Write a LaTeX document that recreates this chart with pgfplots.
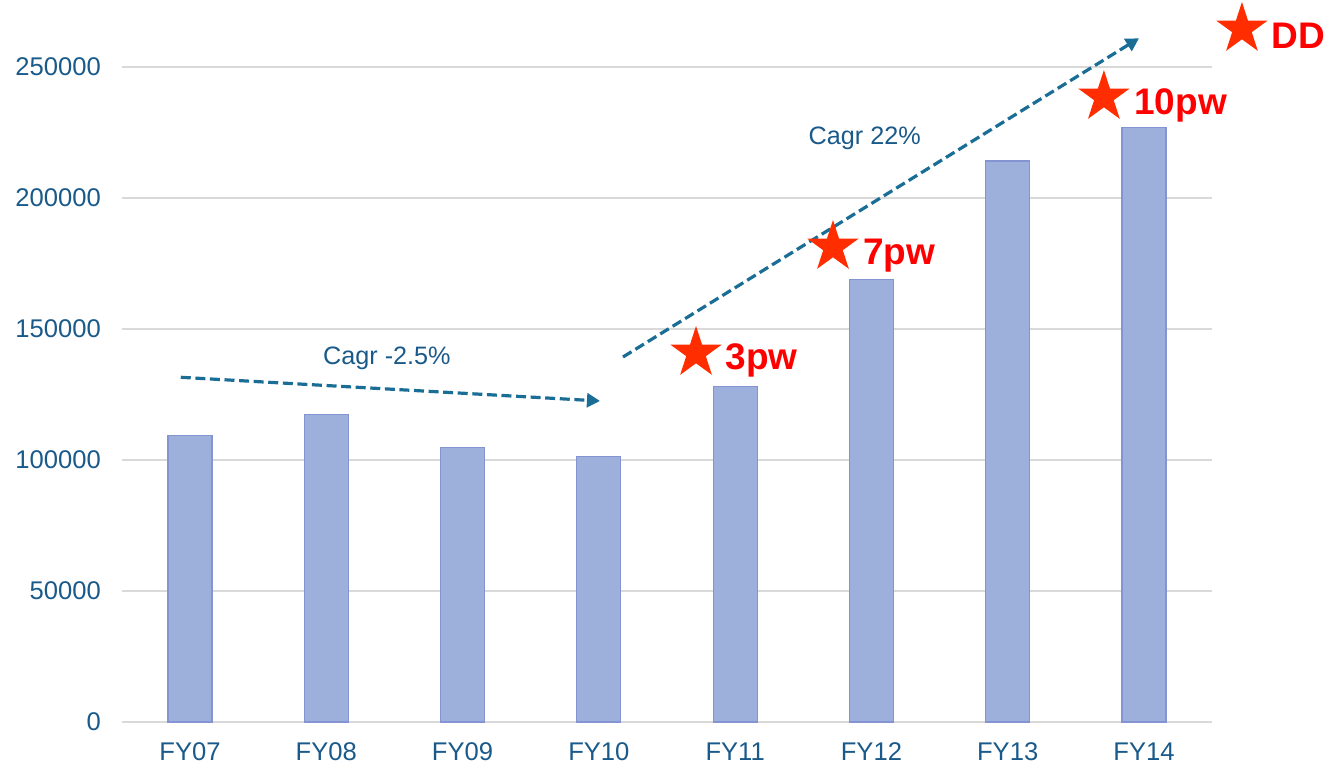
\documentclass[border=0pt]{standalone}
\usepackage{fontspec}
\setmainfont{Liberation Sans}
\usepackage{pgfplots}
\pgfplotsset{compat=1.18}
\usetikzlibrary{shapes.geometric, arrows.meta}

\definecolor{tickblue}{HTML}{1A5A8A}
\definecolor{arrowc}{HTML}{1A6E96}
\definecolor{barfill}{HTML}{9DAFDB}
\definecolor{baredge}{HTML}{8494D2}
\definecolor{starred}{HTML}{FF2D00}
\definecolor{labred}{HTML}{FF0000}
\definecolor{gridgray}{HTML}{D9D9D9}

\begin{document}
\begin{tikzpicture}
\begin{axis}[
    name=ax,
    width=545.1pt, height=327.5pt, scale only axis,
    xmin=-0.5, xmax=7.5, ymin=0, ymax=250000,
    xtick={0,...,7},
    xticklabels={FY07,FY08,FY09,FY10,FY11,FY12,FY13,FY14},
    ytick={0,50000,100000,150000,200000,250000},
    ymajorgrids, grid style={gridgray, line width=0.6pt},
    axis line style={draw=none}, major tick length=0pt,
    scaled y ticks=false,
    /pgf/number format/fixed, /pgf/number format/1000 sep={},
    /pgf/number format/assume math mode=true,
    tick label style={font=\fontsize{12.8}{15}\selectfont, text=tickblue},
    yticklabel style={xshift=-7pt},
    xticklabel style={yshift=-7pt},
    clip=false,
]
\addplot[ybar, bar width=0.323, fill=barfill, draw=baredge, line width=0.6pt]
    coordinates {(0,109300)(1,117500)(2,104700)(3,101200)(4,127900)(5,168800)(6,214100)(7,227000)};

% trend arrows
\draw[arrowc, line width=1.6pt, dash pattern=on 5pt off 2.3pt, -{Triangle[length=6.5pt,width=7pt]}]
    (axis cs:-0.068,131565) -- (axis cs:3.008,122519);
\draw[arrowc, line width=1.6pt, dash pattern=on 5pt off 2.3pt, -{Triangle[length=6.5pt,width=7pt]}]
    (axis cs:3.177,139313) -- (axis cs:6.963,260954);
\node[anchor=base west, inner sep=0pt, text=tickblue, font=\fontsize{12.6}{15}\selectfont]
    at (axis cs:0.974,136260) {Cagr -2.5\%};
\node[anchor=base west, inner sep=0pt, text=tickblue, font=\fontsize{12.6}{15}\selectfont]
    at (axis cs:4.537,220229) {Cagr 22\%};

% milestones
\tikzset{mstar/.style={star, star points=5, star point ratio=2.618, fill=starred, draw=none, minimum size=27pt, inner sep=0pt},
         mlab/.style={anchor=base west, inner sep=0pt, text=labred, font=\bfseries\fontsize{18.5}{22}\selectfont}}
\node[mstar] at (axis cs:3.713,140840) {};
\node[mlab] at (axis cs:3.926,134351) {3pw};
\node[mstar] at (axis cs:4.718,181298) {};
\node[mlab] at (axis cs:4.938,174427) {7pw};
\node[mstar] at (axis cs:6.706,238550) {};
\node[mlab] at (axis cs:6.926,231679) {10pw};
\node[mstar] at (axis cs:7.719,264504) {};
\node[mlab] at (axis cs:7.933,257137) {DD};
\end{axis}
\pgfresetboundingbox
\path[use as bounding box] ([shift={(-60.95pt,-23.5pt)}]ax.south west) rectangle ([shift={(60.45pt,33.5pt)}]ax.north east);
\end{tikzpicture}
\end{document}
